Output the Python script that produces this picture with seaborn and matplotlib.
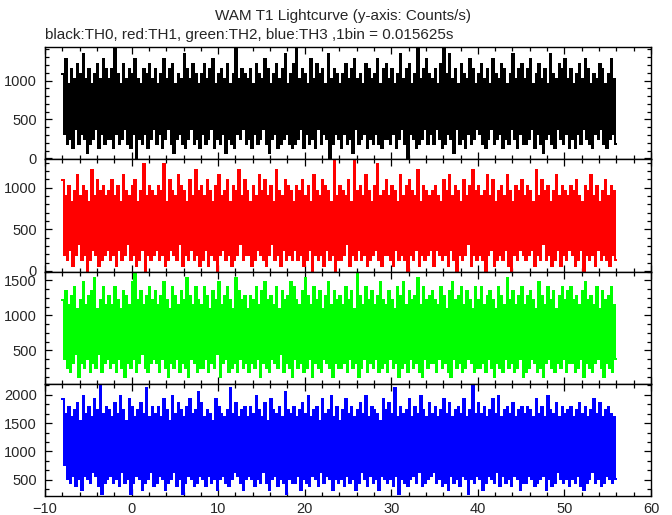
import numpy as np
import seaborn as sns
import matplotlib.pyplot as plt
from matplotlib.ticker import MultipleLocator

# WAM T1 lightcurve, 4 energy bands, 1 bin = 0.015625 s
# values are counts per bin (x 64 -> counts/s), given as per-pixel high / low envelope
bin_size = 0.015625
t_start = -8.0
t_stop = 56.0

th0_hi = [17, 20, 15, 18, 16, 19, 17, 21, 16, 18, 15, 17, 19, 16, 20, 18,
          16, 18, 22, 17, 15, 19, 16, 18, 17, 20, 16, 15, 18, 17, 19, 16,
          18, 15, 17, 20, 16, 18, 19, 15, 17, 16, 21, 18, 16, 19, 17, 15,
          17, 19, 16, 18, 20, 15, 17, 18, 16, 19, 15, 17, 22, 16, 18, 17,
          16, 18, 15, 19, 17, 16, 20, 18, 15, 17, 19, 16, 18, 21, 15, 17,
          19, 22, 16, 18, 17, 15, 20, 16, 19, 17, 18, 15, 21, 16, 18, 17,
          15, 17, 19, 16, 18, 20, 16, 17, 15, 19, 18, 16, 17, 20, 15, 18,
          19, 16, 18, 15, 17, 21, 16, 18, 19, 15, 17, 22, 16, 18, 20, 17,
          16, 18, 15, 19, 22, 17, 21, 16, 18, 15, 19, 17, 16, 20, 18, 15,
          17, 19, 16, 18, 15, 20, 17, 16, 19, 18, 15, 17, 21, 16, 18, 19,
          16, 18, 20, 15, 17, 19, 16, 18, 15, 21, 17, 16, 19, 18, 20, 16,
          18, 15, 17, 19, 16, 20, 18, 15, 17, 16, 19, 18, 15, 17, 20, 16]
th0_lo = [5, 3, 4, 2, 6, 3, 5, 4, 1, 3, 4, 6, 2, 5, 3, 4,
          4, 2, 5, 3, 4, 6, 3, 2, 5, 0, 4, 3, 5, 2, 4, 6,
          3, 5, 2, 4, 6, 3, 1, 4, 5, 3, 2, 4, 6, 3, 4, 2,
          5, 3, 4, 6, 2, 4, 3, 5, 1, 4, 3, 2, 5, 4, 6, 3,
          4, 2, 5, 3, 4, 6, 3, 1, 4, 5, 2, 3, 4, 5, 3, 2,
          3, 4, 6, 2, 5, 3, 4, 2, 6, 3, 5, 4, 0, 3, 5, 4,
          2, 5, 3, 4, 1, 6, 3, 4, 5, 2, 4, 3, 5, 3, 2, 4,
          4, 3, 5, 2, 4, 6, 3, 0, 5, 4, 2, 3, 4, 6, 3, 5,
          3, 6, 4, 2, 3, 5, 4, 1, 6, 3, 4, 2, 5, 3, 4, 6,
          5, 3, 2, 4, 6, 3, 4, 5, 2, 4, 3, 6, 4, 2, 5, 3,
          3, 4, 6, 2, 5, 3, 1, 4, 5, 3, 2, 6, 4, 3, 5, 2,
          4, 2, 5, 3, 6, 4, 3, 2, 5, 4, 6, 3, 2, 4, 5, 3]

th1_hi = [17, 14, 16, 13, 15, 18, 14, 16, 15, 13, 19, 14, 17, 15, 16, 14,
          15, 17, 14, 16, 13, 18, 15, 14, 16, 17, 13, 15, 20, 14, 16, 15,
          14, 16, 15, 20, 13, 17, 15, 14, 18, 16, 15, 13, 17, 14, 19, 15,
          16, 14, 17, 15, 13, 16, 18, 14, 15, 17, 13, 16, 15, 19, 14, 17,
          15, 13, 16, 14, 18, 15, 17, 14, 16, 13, 19, 15, 14, 17, 16, 15,
          13, 16, 15, 17, 14, 16, 13, 18, 15, 14, 17, 16, 15, 13, 21, 14,
          16, 15, 14, 17, 13, 21, 15, 16, 14, 18, 15, 13, 16, 20, 14, 15,
          17, 14, 16, 15, 13, 18, 14, 16, 17, 15, 14, 19, 13, 16, 15, 14,
          15, 16, 14, 13, 17, 15, 18, 14, 16, 15, 13, 17, 14, 16, 19, 15,
          16, 14, 15, 18, 14, 17, 13, 15, 16, 14, 18, 15, 13, 16, 15, 17,
          14, 16, 15, 13, 19, 14, 17, 15, 16, 13, 15, 18, 14, 16, 15, 14,
          16, 15, 17, 14, 13, 16, 15, 18, 14, 16, 13, 15, 17, 14, 16, 15]
th1_lo = [3, 2, 4, 1, 3, 5, 2, 3, 0, 2, 4, 3, 1, 2, 3, 4,
          2, 3, 1, 4, 2, 3, 5, 2, 3, 1, 2, 4, 0, 3, 2, 3,
          4, 2, 3, 1, 2, 4, 3, 2, 5, 1, 3, 2, 4, 2, 3, 1,
          2, 4, 1, 3, 2, 0, 3, 4, 2, 3, 1, 2, 3, 5, 2, 3,
          3, 1, 2, 4, 3, 2, 1, 3, 5, 2, 3, 1, 4, 2, 3, 2,
          4, 2, 3, 1, 2, 4, 0, 3, 2, 3, 1, 4, 2, 3, 0, 2,
          2, 3, 5, 1, 3, 2, 4, 2, 3, 1, 2, 3, 4, 2, 1, 3,
          3, 2, 1, 4, 2, 3, 2, 0, 3, 2, 4, 1, 3, 2, 3, 4,
          1, 4, 3, 2, 3, 1, 4, 2, 0, 3, 2, 3, 5, 1, 3, 2,
          3, 2, 0, 3, 4, 1, 2, 3, 2, 4, 1, 0, 3, 2, 4, 3,
          2, 3, 4, 1, 3, 2, 5, 2, 3, 1, 2, 4, 1, 3, 2, 4,
          3, 1, 2, 4, 0, 3, 2, 3, 1, 4, 2, 3, 2, 1, 3, 2]

th2_hi = [19, 21, 18, 20, 22, 17, 19, 23, 18, 20, 21, 24, 17, 19, 22, 18,
          20, 18, 22, 19, 17, 21, 20, 18, 23, 25, 19, 21, 18, 20, 22, 19,
          21, 18, 20, 23, 19, 17, 22, 20, 18, 21, 19, 24, 20, 18, 22, 19,
          18, 22, 20, 17, 21, 19, 23, 18, 20, 22, 19, 17, 24, 21, 19, 20,
          17, 20, 19, 22, 18, 21, 23, 19, 20, 18, 22, 17, 21, 19, 20, 23,
          22, 19, 18, 21, 24, 20, 18, 22, 19, 21, 17, 20, 23, 18, 21, 19,
          20, 18, 22, 19, 21, 17, 25, 20, 18, 22, 19, 21, 18, 20, 23, 19,
          18, 21, 19, 17, 22, 20, 23, 18, 21, 19, 20, 24, 18, 22, 19, 20,
          21, 19, 18, 22, 20, 17, 21, 23, 19, 20, 22, 18, 21, 19, 17, 22,
          19, 22, 18, 20, 21, 19, 17, 22, 20, 18, 24, 19, 21, 18, 20, 22,
          18, 20, 21, 19, 17, 23, 20, 18, 22, 19, 21, 17, 20, 22, 19, 21,
          22, 19, 20, 18, 21, 23, 19, 20, 18, 22, 17, 21, 19, 20, 22, 18]
th2_lo = [6, 4, 3, 5, 7, 2, 5, 4, 6, 3, 5, 4, 7, 3, 5, 6,
          4, 5, 3, 6, 4, 2, 5, 4, 6, 3, 5, 7, 4, 3, 5, 6,
          5, 3, 6, 4, 2, 5, 4, 6, 3, 5, 4, 2, 6, 5, 3, 4,
          4, 6, 3, 5, 4, 7, 2, 5, 6, 3, 4, 5, 3, 6, 4, 5,
          3, 5, 4, 6, 2, 5, 4, 3, 6, 5, 4, 7, 3, 5, 4, 2,
          6, 4, 5, 3, 4, 6, 2, 5, 4, 3, 6, 5, 4, 2, 5, 4,
          4, 5, 3, 6, 4, 5, 2, 4, 6, 3, 5, 4, 6, 3, 4, 5,
          3, 6, 4, 5, 2, 4, 5, 3, 6, 4, 5, 3, 2, 6, 4, 5,
          5, 3, 6, 4, 5, 3, 2, 6, 4, 5, 3, 4, 6, 5, 3, 4,
          4, 5, 3, 6, 4, 2, 5, 4, 3, 6, 4, 5, 3, 4, 6, 2,
          3, 4, 6, 5, 3, 4, 2, 5, 6, 4, 3, 5, 4, 6, 3, 5,
          5, 3, 4, 6, 2, 5, 4, 3, 5, 6, 4, 2, 5, 4, 3, 6]

th3_hi = [30, 26, 28, 25, 27, 29, 24, 31, 26, 28, 25, 30, 27, 34, 26, 28,
          27, 25, 29, 26, 31, 27, 24, 30, 28, 25, 27, 29, 26, 33, 25, 28,
          26, 28, 25, 30, 27, 24, 31, 26, 29, 27, 25, 28, 30, 26, 27, 32,
          29, 25, 27, 26, 24, 30, 28, 26, 25, 27, 33, 26, 29, 25, 27, 28,
          25, 28, 26, 31, 27, 25, 29, 24, 30, 27, 26, 28, 25, 32, 27, 26,
          28, 25, 27, 29, 26, 31, 25, 27, 28, 24, 30, 26, 27, 31, 25, 28,
          24, 27, 30, 26, 28, 25, 27, 29, 26, 31, 25, 28, 27, 26, 24, 30,
          27, 29, 26, 33, 25, 28, 26, 27, 30, 25, 28, 26, 31, 27, 25, 29,
          26, 28, 25, 27, 30, 26, 29, 25, 27, 28, 26, 30, 25, 27, 34, 26,
          29, 26, 28, 25, 27, 30, 26, 31, 25, 27, 28, 26, 29, 25, 27, 28,
          26, 28, 27, 25, 30, 26, 28, 25, 31, 27, 26, 29, 25, 28, 26, 27,
          28, 25, 27, 29, 26, 28, 25, 27, 30, 26, 29, 25, 27, 28, 26, 25]
th3_lo = [12, 8, 7, 9, 6, 8, 5, 9, 8, 7, 10, 9, 6, 4, 7, 8,
          9, 7, 8, 6, 10, 7, 8, 4, 7, 9, 8, 5, 7, 8, 10, 6,
          7, 9, 8, 5, 7, 8, 10, 6, 8, 4, 7, 9, 8, 6, 7, 9,
          8, 6, 9, 7, 8, 5, 8, 9, 7, 6, 8, 10, 9, 7, 5, 8,
          9, 8, 6, 8, 7, 10, 7, 5, 8, 9, 6, 8, 7, 4, 8, 7,
          7, 9, 5, 8, 7, 6, 9, 8, 6, 10, 7, 9, 8, 5, 8, 7,
          8, 6, 9, 7, 8, 5, 7, 10, 8, 6, 9, 7, 8, 5, 9, 8,
          7, 8, 6, 9, 4, 8, 7, 6, 8, 9, 7, 10, 6, 7, 8, 9,
          10, 7, 8, 6, 7, 5, 9, 7, 8, 6, 9, 8, 4, 8, 7, 9,
          8, 5, 7, 9, 8, 7, 10, 6, 9, 7, 8, 6, 9, 8, 5, 7,
          7, 9, 8, 6, 7, 8, 9, 5, 8, 6, 7, 10, 8, 7, 8, 6,
          8, 7, 9, 6, 5, 7, 8, 10, 7, 8, 6, 7, 9, 8, 7, 8]

bands = [(th0_hi, th0_lo), (th1_hi, th1_lo), (th2_hi, th2_lo), (th3_hi, th3_lo)]
colors = ["black", "#ff0000", "#00ff00", "#0000ff"]
ylims = [(-10, 1430), (-8, 1340), (25, 1625), (215, 2195)]
yticks = [[0, 500, 1000], [0, 500, 1000], [500, 1000, 1500], [500, 1000, 1500, 2000]]
yminor = [100, 100, 125, 500 / 3]

sns.set_style("ticks")
plt.rcParams["font.family"] = ["Liberation Sans", "DejaVu Sans"]
plt.rcParams["axes.linewidth"] = 1.0
plt.rcParams["path.simplify"] = False

fig = plt.figure(figsize=(6.72, 5.15), dpi=100)

left, width = 45 / 672, 606 / 672
top_px, panel_px = 47, 112.25

for i, (hi, lo) in enumerate(bands):
    bottom = 1 - (top_px + (i + 1) * panel_px) / 515
    ax = fig.add_axes([left, bottom, width, panel_px / 515])

    # interleave high/low per half-bin, convert counts/bin to counts/s
    y = np.empty(2 * len(hi))
    y[0::2] = hi
    y[1::2] = lo
    y = y / bin_size
    y = np.append(y, y[-1])
    x = np.linspace(t_start, t_stop, len(y))

    sns.lineplot(x=x, y=y, ax=ax, color=colors[i], lw=1.2,
                 drawstyle="steps-post", sort=False, estimator=None,
                 antialiased=False)

    ax.set_xlim(-10, 60)
    ax.set_ylim(*ylims[i])
    ax.set_yticks(yticks[i])
    ax.yaxis.set_minor_locator(MultipleLocator(yminor[i]))
    ax.xaxis.set_major_locator(MultipleLocator(10))
    ax.xaxis.set_minor_locator(MultipleLocator(2))
    ax.tick_params(which="both", direction="in", top=True, right=True,
                   color="black", width=0.9, labelsize=10.5)
    ax.tick_params(which="major", length=5.2)
    ax.tick_params(which="minor", length=2.8)
    ax.tick_params(axis="y", pad=6)
    ax.tick_params(axis="x", pad=4)
    if i < 3:
        ax.tick_params(axis="x", labelbottom=False)
    ax.set_xlabel("")
    ax.set_ylabel("")
    for spine in ax.spines.values():
        spine.set_visible(True)
        spine.set_color("black")

fig.text(343 / 672, 1 - 16 / 515, "WAM T1 Lightcurve (y-axis: Counts/s)",
         ha="center", va="center", fontsize=11)
fig.text(45 / 672, 1 - 35 / 515,
         "black:TH0, red:TH1, green:TH2, blue:TH3 ,1bin = 0.015625s",
         ha="left", va="center", fontsize=11)

fig.savefig("out.png", dpi=100)
